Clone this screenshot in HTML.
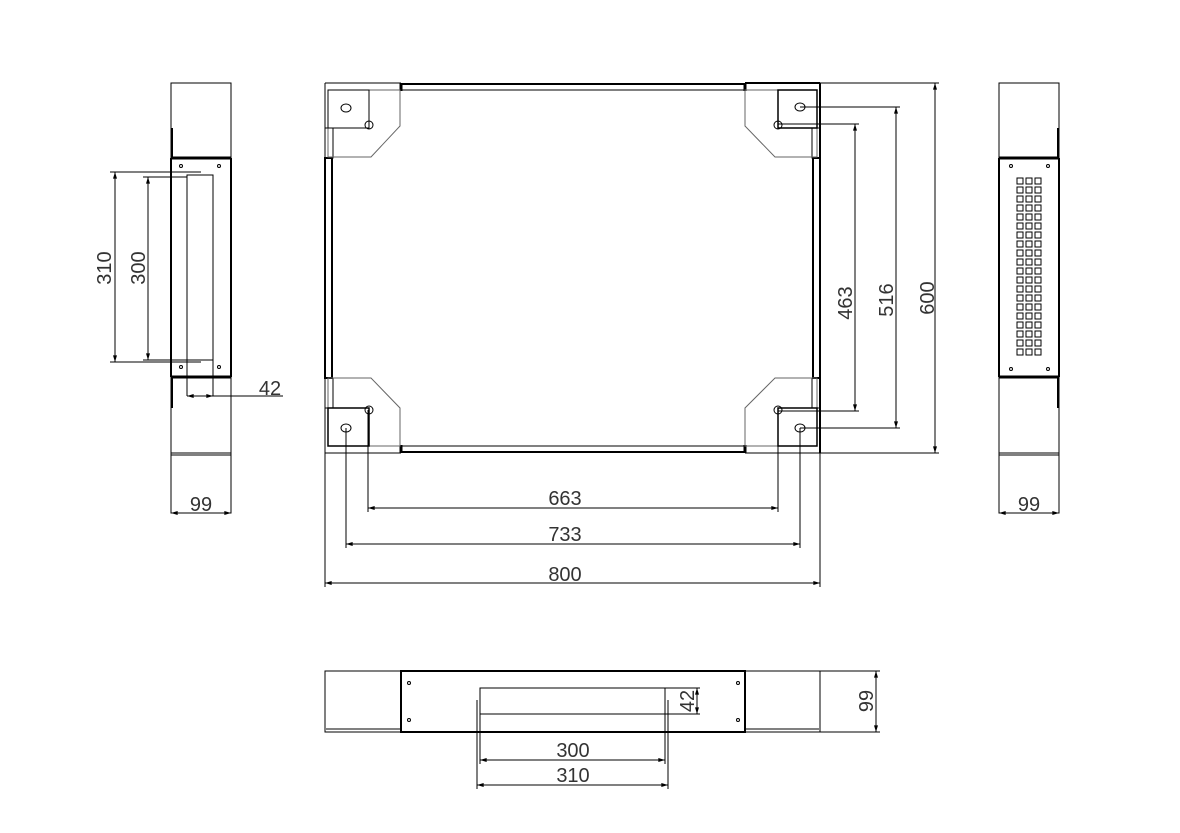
<!DOCTYPE html>
<html><head><style>html,body{margin:0;padding:0;background:#fff}svg{display:block}</style></head>
<body>
<svg width="1180" height="833" viewBox="0 0 1180 833" xmlns="http://www.w3.org/2000/svg" font-family="Liberation Sans, sans-serif">
<defs>
<marker id="a" viewBox="0 0 10 6" refX="10" refY="3" markerWidth="10" markerHeight="4" orient="auto-start-reverse" markerUnits="userSpaceOnUse"><path d="M0,0L10,3L0,6z" fill="#000"/></marker>
</defs>
<g fill="none" stroke="#000" stroke-width="1">
<!-- Left side view -->
<rect x="171" y="83" width="60" height="430"/>
<line x1="171" y1="158" x2="231" y2="158" stroke-width="3"/>
<line x1="171" y1="377" x2="231" y2="377" stroke-width="3"/>
<line x1="171" y1="158" x2="171" y2="377" stroke-width="2"/>
<line x1="231" y1="158" x2="231" y2="377" stroke-width="2"/>
<line x1="171" y1="453" x2="231" y2="453"/><line x1="171" y1="455" x2="231" y2="455"/>
<line x1="172" y1="128" x2="172" y2="158" stroke-width="2"/><line x1="172" y1="378" x2="172" y2="408" stroke-width="2"/>
<circle cx="181" cy="166" r="1.5"/><circle cx="219" cy="166" r="1.5"/><circle cx="181" cy="367" r="1.5"/><circle cx="219" cy="367" r="1.5"/>
<polyline points="187,396 187,175 213,175 213,396"/>
<line x1="110" y1="172" x2="201" y2="172"/><line x1="110" y1="362" x2="201" y2="362"/>
<line x1="143" y1="177" x2="187" y2="177"/><line x1="143" y1="360" x2="213" y2="360"/>
<line x1="115" y1="172" x2="115" y2="362" marker-start="url(#a)" marker-end="url(#a)"/>
<line x1="148" y1="177" x2="148" y2="360" marker-start="url(#a)" marker-end="url(#a)"/>
<line x1="187" y1="396" x2="213" y2="396" marker-start="url(#a)" marker-end="url(#a)"/>
<line x1="213" y1="396" x2="283" y2="396"/>
<line x1="171" y1="513" x2="231" y2="513" marker-start="url(#a)" marker-end="url(#a)"/>

<!-- Main top view -->
<line x1="325" y1="83" x2="325" y2="453"/>
<line x1="820" y1="83" x2="820" y2="453" stroke-width="2"/>
<line x1="325" y1="83" x2="401" y2="83"/><line x1="745" y1="83" x2="820" y2="83" stroke-width="2"/>
<line x1="325" y1="453" x2="401" y2="453"/><line x1="745" y1="453" x2="820" y2="453"/>
<line x1="401" y1="84" x2="745" y2="84" stroke-width="2"/><line x1="401" y1="90" x2="745" y2="90"/>
<line x1="401" y1="446" x2="745" y2="446"/><line x1="401" y1="452" x2="745" y2="452" stroke-width="2"/>
<line x1="401" y1="83" x2="401" y2="91" stroke-width="3"/><line x1="745" y1="83" x2="745" y2="91" stroke-width="3"/>
<line x1="401" y1="445" x2="401" y2="453" stroke-width="3"/><line x1="745" y1="445" x2="745" y2="453" stroke-width="3"/>
<rect x="325" y="158" width="7" height="220" stroke-width="2"/>
<rect x="813" y="158" width="7" height="220" stroke-width="2"/>
<rect x="325" y="128" width="8" height="30"/><rect x="325" y="378" width="8" height="30"/>
<rect x="812" y="128" width="8" height="30"/><rect x="812" y="378" width="8" height="30"/>
<polygon points="328,90 400,90 400,126 371,157 328,157" stroke="#666"/>
<polygon points="745,90 817,90 817,157 775,157 745,126" stroke="#666"/>
<polygon points="328,446 400,446 400,408 371,378 328,378" stroke="#666"/>
<polygon points="745,446 817,446 817,378 775,378 745,408" stroke="#666"/>
<rect x="328" y="90" width="41" height="38"/><rect x="778" y="90" width="39" height="38" stroke-width="1.5"/>
<rect x="328" y="408" width="41" height="38" stroke-width="1.5"/><rect x="778" y="408" width="39" height="38" stroke-width="1.5"/>
<ellipse cx="346" cy="108" rx="5" ry="4"/><ellipse cx="800" cy="107" rx="5" ry="4"/>
<ellipse cx="346" cy="428" rx="5" ry="4"/><ellipse cx="800" cy="428" rx="5" ry="4"/>
<circle cx="369" cy="125" r="4"/><circle cx="778" cy="125" r="4"/>
<circle cx="369" cy="410" r="4"/><circle cx="778" cy="410" r="4"/>
<line x1="368" y1="410" x2="368" y2="512"/><line x1="778" y1="410" x2="778" y2="512"/>
<line x1="346" y1="428" x2="346" y2="548"/><line x1="800" y1="428" x2="800" y2="548"/>
<line x1="325" y1="453" x2="325" y2="587"/><line x1="820" y1="453" x2="820" y2="587"/>
<line x1="368" y1="508" x2="778" y2="508" marker-start="url(#a)" marker-end="url(#a)"/>
<line x1="346" y1="544" x2="800" y2="544" marker-start="url(#a)" marker-end="url(#a)"/>
<line x1="325" y1="583" x2="820" y2="583" marker-start="url(#a)" marker-end="url(#a)"/>
<line x1="820" y1="83" x2="939" y2="83"/><line x1="820" y1="453" x2="939" y2="453"/>
<line x1="800" y1="107" x2="900" y2="107"/><line x1="800" y1="428" x2="900" y2="428"/>
<line x1="778" y1="124" x2="859" y2="124"/><line x1="778" y1="411" x2="859" y2="411"/>
<line x1="935" y1="83" x2="935" y2="453" marker-start="url(#a)" marker-end="url(#a)"/>
<line x1="896" y1="107" x2="896" y2="428" marker-start="url(#a)" marker-end="url(#a)"/>
<line x1="855" y1="124" x2="855" y2="411" marker-start="url(#a)" marker-end="url(#a)"/>

<!-- Right side view -->
<rect x="999" y="83" width="60" height="430"/>
<line x1="999" y1="158" x2="1059" y2="158" stroke-width="3"/>
<line x1="999" y1="377" x2="1059" y2="377" stroke-width="3"/>
<line x1="999" y1="158" x2="999" y2="377" stroke-width="2"/>
<line x1="1059" y1="158" x2="1059" y2="377" stroke-width="2"/>
<line x1="999" y1="453" x2="1059" y2="453"/><line x1="999" y1="455" x2="1059" y2="455"/>
<line x1="1058" y1="128" x2="1058" y2="158" stroke-width="2"/><line x1="1058" y1="378" x2="1058" y2="408" stroke-width="2"/>
<circle cx="1011" cy="166" r="1.5"/><circle cx="1048" cy="166" r="1.5"/><circle cx="1011" cy="369" r="1.5"/><circle cx="1048" cy="369" r="1.5"/>
<line x1="999" y1="513" x2="1059" y2="513" marker-start="url(#a)" marker-end="url(#a)"/>

<!-- Bottom view -->
<rect x="325" y="671" width="495" height="61"/>
<rect x="401" y="671" width="344" height="61" stroke-width="2"/>
<line x1="326" y1="729" x2="400" y2="729"/><line x1="746" y1="729" x2="819" y2="729"/>
<circle cx="409" cy="683" r="1.5"/><circle cx="409" cy="720" r="1.5"/><circle cx="738" cy="683" r="1.5"/><circle cx="738" cy="720" r="1.5"/>
<polyline points="480,764 480,688 700,688"/>
<line x1="480" y1="714" x2="700" y2="714"/>
<line x1="665" y1="688" x2="665" y2="764"/>
<line x1="477" y1="700" x2="477" y2="789"/><line x1="668" y1="700" x2="668" y2="789"/>
<line x1="480" y1="760" x2="665" y2="760" marker-start="url(#a)" marker-end="url(#a)"/>
<line x1="477" y1="785" x2="668" y2="785" marker-start="url(#a)" marker-end="url(#a)"/>
<line x1="697" y1="688" x2="697" y2="714" marker-start="url(#a)" marker-end="url(#a)"/>
<line x1="820" y1="671" x2="880" y2="671"/><line x1="820" y1="732" x2="880" y2="732"/>
<line x1="876" y1="671" x2="876" y2="732" marker-start="url(#a)" marker-end="url(#a)"/>
</g>
<g fill="none" stroke="#000" stroke-width="1">
<path d="
M1017,178h6v6h-6z M1026,178h6v6h-6z M1035,178h6v6h-6z
M1017,187h6v6h-6z M1026,187h6v6h-6z M1035,187h6v6h-6z
M1017,196h6v6h-6z M1026,196h6v6h-6z M1035,196h6v6h-6z
M1017,205h6v6h-6z M1026,205h6v6h-6z M1035,205h6v6h-6z
M1017,214h6v6h-6z M1026,214h6v6h-6z M1035,214h6v6h-6z
M1017,223h6v6h-6z M1026,223h6v6h-6z M1035,223h6v6h-6z
M1017,232h6v6h-6z M1026,232h6v6h-6z M1035,232h6v6h-6z
M1017,241h6v6h-6z M1026,241h6v6h-6z M1035,241h6v6h-6z
M1017,250h6v6h-6z M1026,250h6v6h-6z M1035,250h6v6h-6z
M1017,259h6v6h-6z M1026,259h6v6h-6z M1035,259h6v6h-6z
M1017,268h6v6h-6z M1026,268h6v6h-6z M1035,268h6v6h-6z
M1017,277h6v6h-6z M1026,277h6v6h-6z M1035,277h6v6h-6z
M1017,286h6v6h-6z M1026,286h6v6h-6z M1035,286h6v6h-6z
M1017,295h6v6h-6z M1026,295h6v6h-6z M1035,295h6v6h-6z
M1017,304h6v6h-6z M1026,304h6v6h-6z M1035,304h6v6h-6z
M1017,313h6v6h-6z M1026,313h6v6h-6z M1035,313h6v6h-6z
M1017,322h6v6h-6z M1026,322h6v6h-6z M1035,322h6v6h-6z
M1017,331h6v6h-6z M1026,331h6v6h-6z M1035,331h6v6h-6z
M1017,340h6v6h-6z M1026,340h6v6h-6z M1035,340h6v6h-6z
M1017,349h6v6h-6z M1026,349h6v6h-6z M1035,349h6v6h-6z"/>
</g>
<g fill="#333" font-size="20" text-anchor="middle">
<text x="201" y="511">99</text>
<text x="1029" y="511">99</text>
<text x="270" y="395">42</text>
<text x="565" y="505">663</text>
<text x="565" y="541">733</text>
<text x="565" y="581">800</text>
<text x="573" y="757">300</text>
<text x="573" y="782">310</text>
<text transform="translate(111,268) rotate(-90)">310</text>
<text transform="translate(145,268) rotate(-90)">300</text>
<text transform="translate(852,303) rotate(-90)">463</text>
<text transform="translate(893,300) rotate(-90)">516</text>
<text transform="translate(934,298) rotate(-90)">600</text>
<text transform="translate(873,701) rotate(-90)">99</text>
<text transform="translate(694,701) rotate(-90)">42</text>
</g>
</svg>
</body></html>
